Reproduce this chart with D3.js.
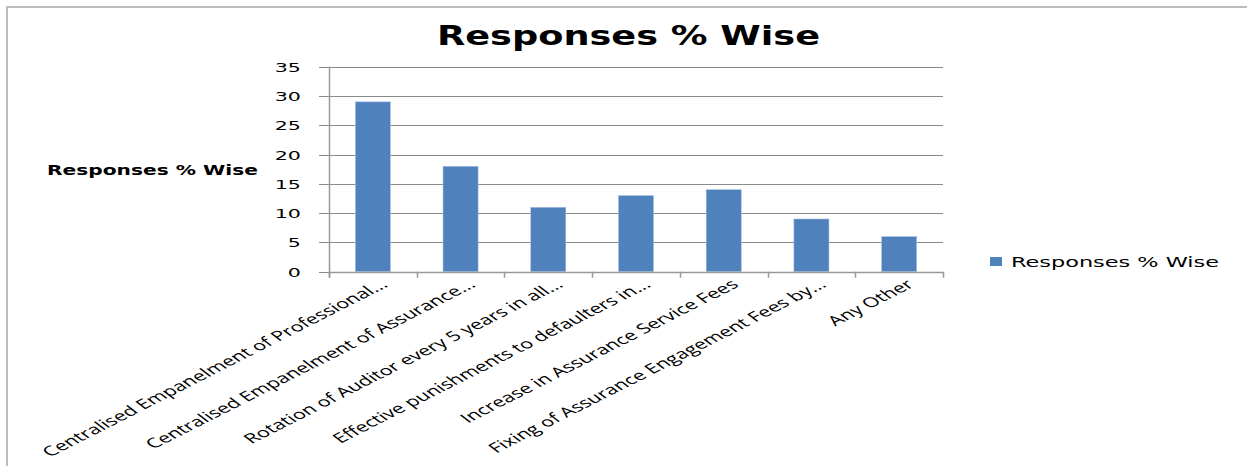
<!DOCTYPE html>
<html>
<head>
<meta charset="utf-8">
<script src="https://cdn.jsdelivr.net/npm/d3@7"></script>
<style>
  html, body { margin: 0; padding: 0; background: #fff; }
  svg { display: block; }
</style>
</head>
<body>
<svg id="chart" width="1247" height="466"></svg>
<script>
const categories = [
  "Centralised Empanelment of Professional...",
  "Centralised Empanelment of Assurance...",
  "Rotation of Auditor every 5 years in all...",
  "Effective punishments to defaulters in...",
  "Increase in Assurance Service Fees",
  "Fixing of Assurance Engagement Fees by...",
  "Any Other"
];
const values = [29, 18, 11, 13, 14, 9, 6];
const yTicks = [0, 5, 10, 15, 20, 25, 30, 35];
const seriesName = "Responses % Wise";
const titleText = "Responses % Wise";
const yTitle = "Responses % Wise";

(function () {
const svg = d3.select("#chart");
const pLeft = 329, pRight = 943, pTop = 66.7, pBottom = 271.7;
const barColor = "#4F81BD";
const gridColor = "#8a8a8a";

// chart frame
svg.append("rect").attr("x", 7).attr("y", 7).attr("width", 1400).attr("height", 600)
  .attr("fill", "none").attr("stroke", "#bdbdbd").attr("stroke-width", 2);

const x = d3.scaleBand().domain(categories).range([pLeft, pRight]).paddingInner(0.6).paddingOuter(0.3);
const y = d3.scaleLinear().domain([0, 35]).range([pBottom, pTop]);

// gridlines + y ticks
const gy = svg.append("g");
yTicks.forEach(t => {
  const yy = Math.round(y(t)) + 0.5;
  gy.append("line").attr("x1", pLeft - 10).attr("x2", pRight).attr("y1", yy).attr("y2", yy)
    .attr("stroke", gridColor).attr("stroke-width", 1);
  gy.append("text")
    .attr("transform", `translate(301,${y(t) + 5}) scale(1.65,1)`)
    .attr("text-anchor", "end")
    .attr("font-family", "DejaVu Sans").attr("font-size", 12.5).attr("fill", "#000")
    .text(t);
});

// bars
svg.append("g").selectAll("rect").data(values).join("rect")
  .attr("x", (d, i) => x(categories[i]))
  .attr("y", d => y(d))
  .attr("width", x.bandwidth())
  .attr("height", d => y(0) - y(d))
  .attr("fill", barColor)
  .attr("stroke", "#a9c1e2").attr("stroke-width", 0.6);

// axes lines
svg.append("line").attr("x1", pLeft + 0.5).attr("x2", pLeft + 0.5).attr("y1", pTop).attr("y2", pBottom + 6)
  .attr("stroke", "#999").attr("stroke-width", 1.5);
svg.append("line").attr("x1", pLeft).attr("x2", pRight).attr("y1", Math.round(pBottom) + 0.5).attr("y2", Math.round(pBottom) + 0.5)
  .attr("stroke", "#999").attr("stroke-width", 1.5);
const step = x.step();
const off = (step - x.bandwidth()) / 2;
categories.concat([null]).forEach((c, i) => {
  const xx = (c ? x(c) - off : x(categories[categories.length - 1]) + x.bandwidth() + off);
  svg.append("line").attr("x1", Math.round(xx) + 0.5).attr("x2", Math.round(xx) + 0.5)
    .attr("y1", pBottom).attr("y2", pBottom + 6).attr("stroke", "#999").attr("stroke-width", 1.5);
});

// x labels
svg.append("g").selectAll("text").data(categories).join("text")
  .attr("transform", d => `translate(${x(d) + x.bandwidth() / 2 + 16},286) scale(1.6,1) rotate(-39)`)
  .attr("text-anchor", "end")
  .attr("font-family", "Open Sans").attr("font-size", 13.6).attr("fill", "#000")
  .text(d => d);

// title
svg.append("text").attr("x", 437).attr("y", 45)
  .attr("font-family", "DejaVu Sans").attr("font-weight", "bold").attr("font-size", 27)
  .attr("textLength", 383).attr("lengthAdjust", "spacingAndGlyphs")
  .text(titleText);

// y title
svg.append("text").attr("x", 47).attr("y", 175)
  .attr("font-family", "DejaVu Sans").attr("font-weight", "bold").attr("font-size", 14)
  .attr("textLength", 211).attr("lengthAdjust", "spacingAndGlyphs")
  .text(yTitle);

// legend
svg.append("rect").attr("x", 990).attr("y", 257).attr("width", 12).attr("height", 9).attr("fill", barColor);
svg.append("text").attr("x", 1011).attr("y", 267)
  .attr("font-family", "DejaVu Sans").attr("font-size", 14)
  .attr("textLength", 208).attr("lengthAdjust", "spacingAndGlyphs")
  .text(seriesName);
})();
</script>
</body>
</html>
